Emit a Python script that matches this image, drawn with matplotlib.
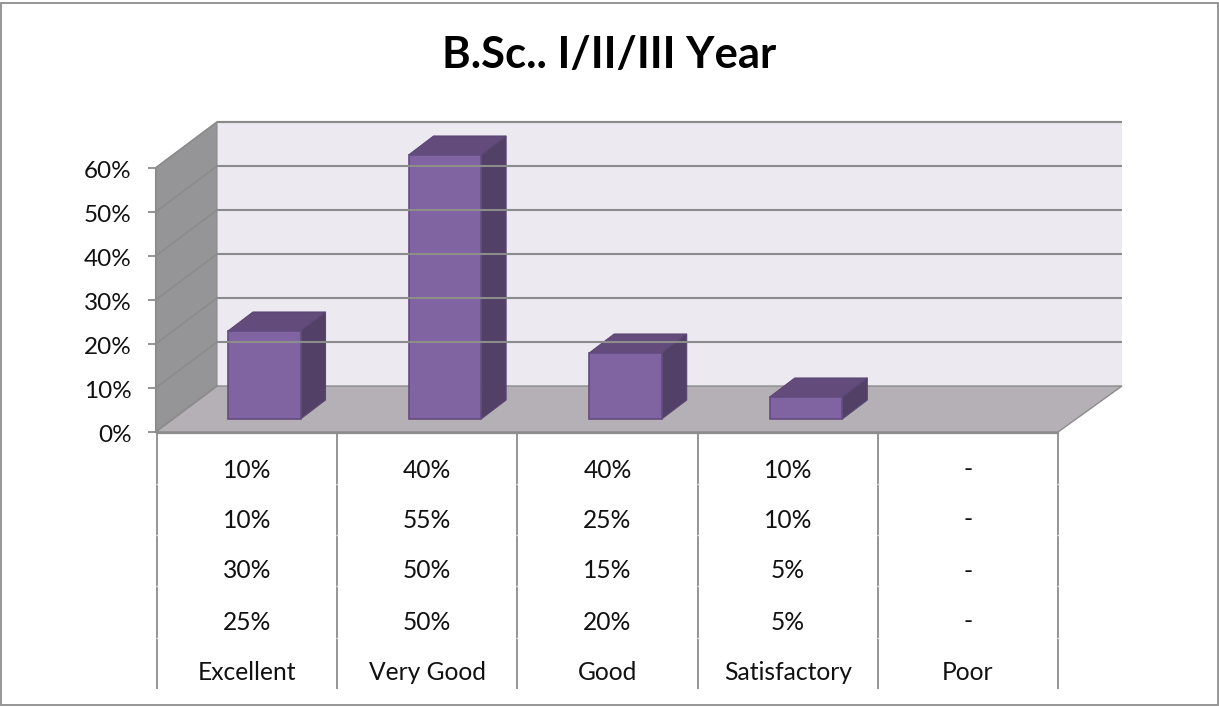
import matplotlib
matplotlib.use("Agg")
import matplotlib.pyplot as plt
from matplotlib.patches import Polygon, Rectangle

title = "B.Sc.. I/II/III Year"
categories = ["Excellent", "Very Good", "Good", "Satisfactory", "Poor"]
values = [20, 60, 15, 5, 0]
yticks = [0, 10, 20, 30, 40, 50, 60]
table_rows = [
    ["10%", "40%", "40%", "10%", "-"],
    ["10%", "55%", "25%", "10%", "-"],
    ["30%", "50%", "15%", "5%", "-"],
    ["25%", "50%", "20%", "5%", "-"],
]

W, H = 1219, 707
plt.rcParams['font.family'] = ['Lato', 'DejaVu Sans']
fig = plt.figure(figsize=(W/100, H/100), dpi=100)
ax = fig.add_axes([0, 0, 1, 1])
ax.set_xlim(0, W); ax.set_ylim(H, 0); ax.axis('off')

ax.add_patch(Rectangle((1, 3), W-2.5, H-5, fc='white', ec='#8e8e8e', lw=1.3))

x0, y0 = 157, 432      # table / floor front-left
wx = 155.5             # wall front edge
pxy = 4.40             # pixels per percent
bx, dy = 217, -46      # back wall left, depth offset
xback = 1122
xr = 1058
cat_w = (xr - x0) / 5
def Y(v): return y0 - v * pxy
top = 60
line = '#8c8c8c'

ax.add_patch(Polygon([(bx, Y(top)+dy), (xback, Y(top)+dy), (xback, y0+dy), (bx, y0+dy)], fc='#ece9f0', ec='none'))
ax.plot([bx, xback], [Y(top)+dy, Y(top)+dy], color=line, lw=1.5, solid_capstyle='butt')
ax.add_patch(Polygon([(wx, Y(top)), (bx, Y(top)+dy), (bx, y0+dy), (wx, y0)], fc='#959497', ec=line, lw=.8))
ax.add_patch(Polygon([(wx, y0), (bx, y0+dy), (xback, y0+dy), (xr, y0)], fc='#b5b0b5', ec=line, lw=1.0))

for v in yticks:
    if v > 0:
        ax.plot([bx, xback], [Y(v)+dy, Y(v)+dy], color=line, lw=1.5, solid_capstyle='butt')
    ax.plot([wx, bx], [Y(v), Y(v)+dy], color=line, lw=1.2)
    ax.plot([148, wx], [Y(v), Y(v)], color=line, lw=1.3, solid_capstyle='butt')
    ax.text(131.5, Y(v)+3, f"{v}%", ha='right', va='center', fontsize=17.5, color='#111111')
ax.plot([wx, wx], [Y(top), y0], color=line, lw=1.4)
ax.plot([x0, xr], [y0+.5, y0+.5], color=line, lw=1.6)

bw = 72.5
bdx, bdy = 25, -19
for i, v in enumerate(values):
    if v <= 0:
        continue
    l = 228 + i * 180.6
    b = 419
    t = b - v * pxy
    ax.add_patch(Polygon([(l+bw, t), (l+bw+bdx, t+bdy), (l+bw+bdx, b+bdy), (l+bw, b)], fc='#534066', ec='#5a4672', lw=.8))
    ax.add_patch(Polygon([(l, t), (l+bdx, t+bdy), (l+bw+bdx, t+bdy), (l+bw, t)], fc='#634c7b', ec='#5a4672', lw=.8))
    ax.add_patch(Rectangle((l, t), bw, v*pxy, fc='#8064a2', ec='#644c80', lw=1.2))

row_y = [470, 520, 571, 622]
for r, row in zip(row_y, table_rows):
    for i, s in enumerate(row):
        ax.text(x0 + (i+.5)*cat_w, r, s, ha='center', va='center', fontsize=17.7, color='#111111')
for i, c in enumerate(categories):
    ax.text(x0 + (i+.5)*cat_w, 672, c, ha='center', va='center', fontsize=17.7, color='#111111')
for i in range(6):
    x = x0 + i*cat_w
    ax.plot([x, x], [y0, 689], color=line, lw=1.3, solid_capstyle='butt')
    for yy in (484, 535, 586, 638):
        ax.plot([x-1, x+1], [yy, yy], color='#e4e4e4', lw=1.0, solid_capstyle='butt')

ax.text(609.5, 55, title, ha='center', va='center', fontsize=31.4, fontweight='bold', color='black')
fig.savefig('out.png', dpi=100)
